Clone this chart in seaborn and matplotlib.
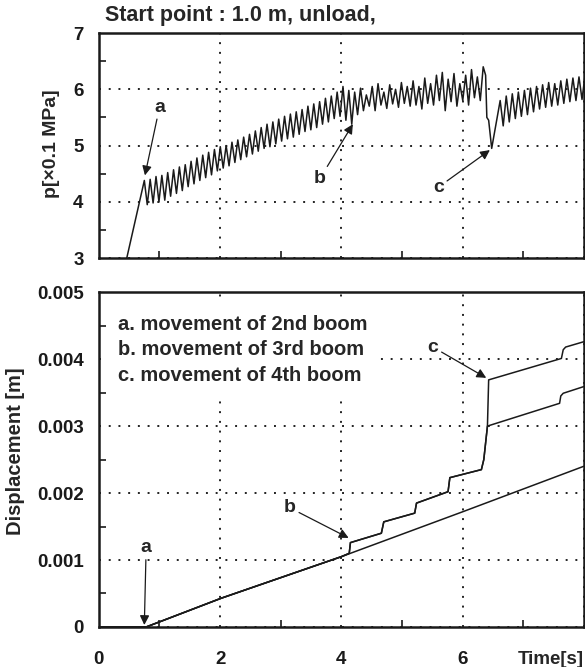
import numpy as np
import pandas as pd
import seaborn as sns
import matplotlib.pyplot as plt

# ---------------- pressure (upper panel) ----------------
ramp_t = [0.46, 0.75]
ramp_p = [3.0, 4.38]

# zigzag until the 4th boom starts (peak / trough values)
zig1_span = [0.75, 6.34]
peaks_1 = [4.38, 4.40, 4.45, 4.47, 4.52, 4.57, 4.62, 4.66, 4.72, 4.78,
           4.83, 4.88, 4.93, 4.98, 5.00, 5.06, 5.10, 5.15, 5.20, 5.26,
           5.32, 5.38, 5.42, 5.47, 5.52, 5.56, 5.60, 5.64, 5.70, 5.74,
           5.78, 5.84, 5.88, 5.95, 6.05, 5.98, 5.95, 6.02, 5.90, 6.05,
           6.10, 5.95, 6.08, 6.00, 6.12, 6.05, 6.15, 6.05, 6.20, 6.10,
           6.25, 6.30, 6.18, 6.28, 6.10, 6.25, 6.35, 6.22, 6.40]
troughs_1 = [3.95, 3.98, 4.00, 4.03, 4.10, 4.15, 4.20, 4.27, 4.32, 4.38,
             4.43, 4.48, 4.55, 4.60, 4.64, 4.70, 4.75, 4.80, 4.85, 4.90,
             4.95, 4.98, 5.03, 5.08, 5.12, 5.15, 5.20, 5.25, 5.28, 5.32,
             5.38, 5.42, 5.48, 5.52, 5.45, 5.38, 5.55, 5.62, 5.70, 5.62,
             5.72, 5.66, 5.74, 5.68, 5.75, 5.70, 5.72, 5.65, 5.75, 5.72,
             5.80, 5.62, 5.78, 5.70, 5.80, 5.72, 5.85, 5.80]

drop_t = [6.38, 6.40, 6.43, 6.48]
drop_p = [6.25, 5.50, 5.45, 4.95]

zig2_span = [6.62, 8.02]
peaks_2 = [5.80, 5.88, 5.92, 5.95, 5.98, 6.02, 6.05, 6.08, 6.12, 6.10,
           6.15, 6.18, 6.20, 6.22, 6.25]
troughs_2 = [5.35, 5.42, 5.48, 5.52, 5.55, 5.60, 5.65, 5.68, 5.70, 5.72,
             5.75, 5.78, 5.80, 5.82]

# ---------------- displacement (lower panel) ----------------
disp_a_t = [0.0, 0.78, 2.02, 4.0, 6.0, 8.0]
disp_a = [0.0, 0.0, 0.00043, 0.00105, 0.00172, 0.00240]

disp_b_t = [0.0, 0.78, 2.02, 4.0, 4.13, 4.15, 4.66, 4.70, 5.21, 5.24,
            5.76, 5.79, 6.31, 6.35, 6.41, 7.60, 7.62, 7.66, 8.0]
disp_b = [0.0, 0.0, 0.00043, 0.00105, 0.00110, 0.00126, 0.00140, 0.00157,
          0.00170, 0.00185, 0.00202, 0.00223, 0.00235, 0.00250, 0.00300,
          0.00334, 0.00345, 0.00349, 0.00359]

disp_c_t = disp_b_t[:15] + [6.43, 7.63, 7.66, 7.70, 8.0]
disp_c = disp_b[:15] + [0.00369, 0.00401, 0.00414, 0.00418, 0.00426]

legend_lines = ["a. movement of 2nd boom",
                "b. movement of 3rd boom",
                "c. movement of 4th boom"]


def interleave(peaks, troughs):
    vals = []
    for i, pk in enumerate(peaks):
        vals.append(pk)
        if i < len(troughs):
            vals.append(troughs[i])
    return vals


zz1 = interleave(peaks_1, troughs_1)
zz2 = interleave(peaks_2, troughs_2)
pres_t = (ramp_t[:-1] + list(np.linspace(zig1_span[0], zig1_span[1], len(zz1)))
          + drop_t + list(np.linspace(zig2_span[0], zig2_span[1], len(zz2))))
pres_p = ramp_p[:-1] + zz1 + drop_p + zz2
pres = pd.DataFrame({"t": pres_t, "p": pres_p})

sns.set_theme(style="ticks")
plt.rcParams["font.family"] = ["Liberation Sans", "DejaVu Sans"]
plt.rcParams["font.weight"] = "bold"

fig = plt.figure(figsize=(5.85, 6.67), dpi=100)
ax1 = fig.add_axes([0.169, 0.613, 0.829, 0.3375])
ax2 = fig.add_axes([0.169, 0.060, 0.829, 0.502])

grid_kw = dict(color="#222222", linestyle=(0, (1, 4)), linewidth=1.4)
arrow_kw = dict(arrowstyle="-|>", color="k", lw=0.9, mutation_scale=14,
                shrinkA=0, shrinkB=0)

# upper panel
sns.lineplot(data=pres, x="t", y="p", ax=ax1, color="k", lw=1.1,
             sort=False, estimator=None)
ax1.set_xlim(0, 8)
ax1.set_ylim(3, 7)
ax1.set_xticks([0, 2, 4, 6, 8])
ax1.set_xticks([1, 3, 5, 7], minor=True)
ax1.set_yticks([3, 4, 5, 6, 7])
ax1.set_yticks([3.5, 4.5, 5.5, 6.5], minor=True)
ax1.tick_params(axis="x", labelbottom=False)
ax1.set_xlabel("")
ax1.set_ylabel("p[×0.1 MPa]", fontsize=14, fontweight="bold")
ax1.yaxis.set_label_coords(-0.08, 0.51)
ax1.grid(True, which="major", **grid_kw)
ax1.annotate("a", xy=(0.76, 4.47), xytext=(1.0, 5.68), ha="center", va="center",
             fontsize=14, fontweight="bold", arrowprops=arrow_kw)
ax1.annotate("b", xy=(4.19, 5.38), xytext=(3.65, 4.42), ha="center", va="center",
             fontsize=14, fontweight="bold", arrowprops=arrow_kw)
ax1.annotate("c", xy=(6.45, 4.92), xytext=(5.6, 4.26), ha="center", va="center",
             fontsize=14, fontweight="bold", arrowprops=arrow_kw)

# lower panel
for tt, dd in [(disp_a_t, disp_a), (disp_b_t, disp_b), (disp_c_t, disp_c)]:
    sns.lineplot(x=tt, y=dd, ax=ax2, color="k", lw=1.1, sort=False, estimator=None)
ax2.set_xlim(0, 8)
ax2.set_ylim(0, 0.005)
ax2.set_xticks([0, 2, 4, 6, 8])
ax2.set_xticklabels(["0", "2", "4", "6", ""])
ax2.set_xticks([1, 3, 5, 7], minor=True)
ax2.set_yticks([0, 0.001, 0.002, 0.003, 0.004, 0.005])
ax2.set_yticklabels(["0", "0.001", "0.002", "0.003", "0.004", "0.005"])
ax2.set_yticks([0.0005, 0.0015, 0.0025, 0.0035, 0.0045], minor=True)
ax2.set_xlabel("")
ax2.set_ylabel("Displacement [m]", fontsize=14.5, fontweight="bold")
ax2.yaxis.set_label_coords(-0.152, 0.525)
ax2.grid(True, which="major", **grid_kw)
ax2.text(0.31, 0.00414, "\n".join(legend_lines), fontsize=14.5, fontweight="bold",
         ha="left", va="center", linespacing=1.42, zorder=5,
         bbox=dict(facecolor="white", edgecolor="none", pad=8))
ax2.annotate("a", xy=(0.75, 0.00003), xytext=(0.78, 0.00118), ha="center", va="center",
             fontsize=14, fontweight="bold", arrowprops=arrow_kw)
ax2.annotate("b", xy=(4.12, 0.00133), xytext=(3.15, 0.00178), ha="center", va="center",
             fontsize=14, fontweight="bold", arrowprops=arrow_kw)
ax2.annotate("c", xy=(6.39, 0.00372), xytext=(5.51, 0.00418), ha="center", va="center",
             fontsize=14, fontweight="bold", arrowprops=arrow_kw)

for ax in (ax1, ax2):
    for s in ax.spines.values():
        s.set_linewidth(1.8)
        s.set_color("k")
    ax.tick_params(which="both", direction="in", colors="k", labelsize=13.5)
    ax.tick_params(which="major", length=0)
    ax.tick_params(which="minor", length=5, width=1.2)
    ax.tick_params(axis="y", pad=11)
    ax.tick_params(axis="x", pad=17)
    for lab in ax.get_xticklabels() + ax.get_yticklabels():
        lab.set_fontweight("bold")

fig.text(0.18, 0.977, "Start point : 1.0 m, unload,", fontsize=15.5,
         fontweight="bold", ha="left", va="center")
fig.text(0.998, 0.0105, "Time[s]", fontsize=13.5, fontweight="bold",
         ha="right", va="center")

fig.savefig("out.png", dpi=100)
